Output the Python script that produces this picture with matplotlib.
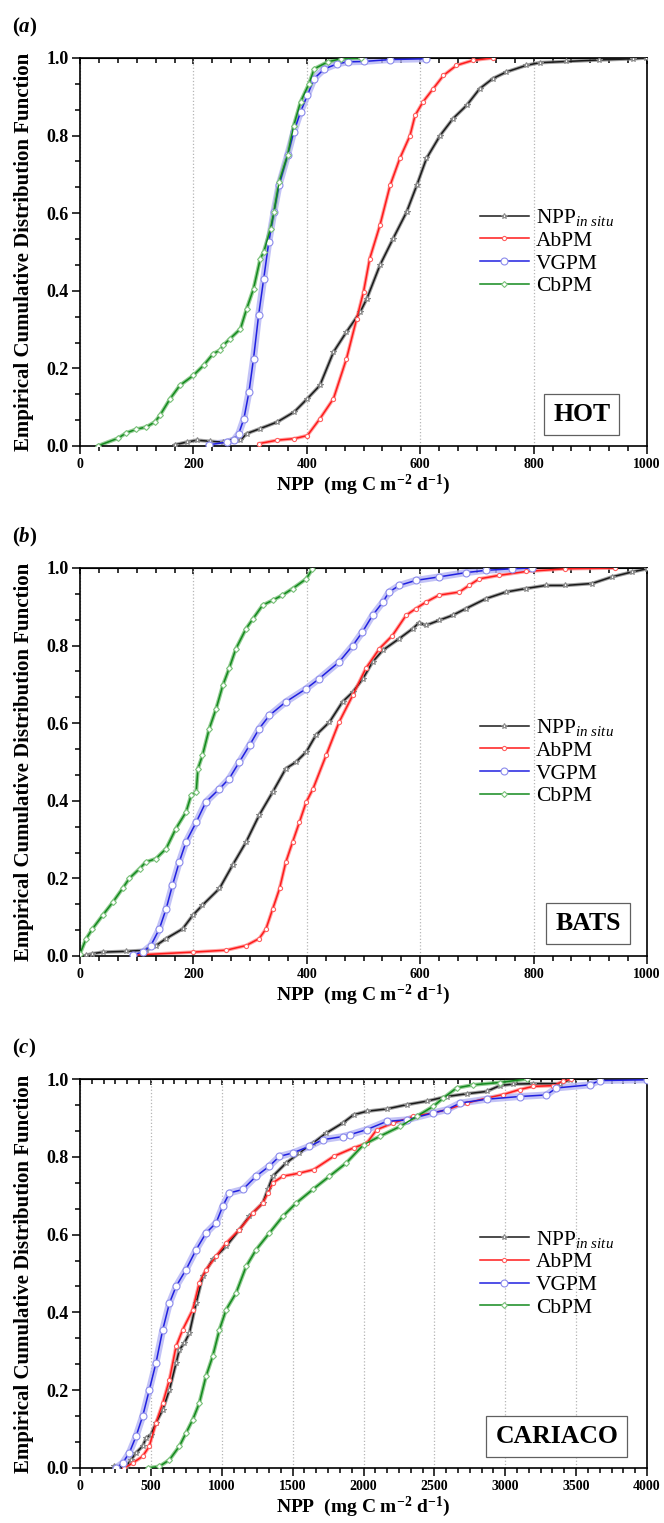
import matplotlib
matplotlib.use("Agg")
import matplotlib.pyplot as plt
from matplotlib.ticker import AutoMinorLocator, MultipleLocator

plt.rcParams['font.family'] = ['Liberation Serif', 'DejaVu Serif']
plt.rcParams['mathtext.fontset'] = 'custom'
plt.rcParams['mathtext.rm'] = 'Liberation Serif'
plt.rcParams['mathtext.it'] = 'Liberation Serif:italic'
plt.rcParams['mathtext.bf'] = 'Liberation Serif:bold'
plt.rcParams['mathtext.bfit'] = 'Liberation Serif:bold:italic'

# ---- (a) HOT: NPP values (x) at read ECDF levels (f)
hot_insitu_x = [167, 188, 206, 230, 253, 271, 283, 294, 318, 348, 378, 401, 423, 447, 470, 494, 506, 529,
                552, 576, 594, 611, 635, 658, 682, 705, 728, 752, 787, 811, 857, 916, 975, 998]
hot_insitu_f = [0.003, 0.010, 0.015, 0.012, 0.010, 0.019, 0.015, 0.032, 0.045, 0.062, 0.088, 0.122, 0.156,
                0.242, 0.294, 0.345, 0.380, 0.466, 0.534, 0.603, 0.672, 0.741, 0.800, 0.844, 0.878, 0.921,
                0.947, 0.964, 0.981, 0.988, 0.991, 0.995, 0.998, 1.0]
hot_abpm_x = [315, 348, 378, 401, 423, 447, 470, 488, 500, 511, 529, 547, 564, 582, 591, 605, 623, 641, 664, 693, 728]
hot_abpm_f = [0.006, 0.015, 0.019, 0.027, 0.070, 0.122, 0.225, 0.328, 0.397, 0.483, 0.569, 0.672, 0.741,
              0.800, 0.852, 0.887, 0.921, 0.955, 0.981, 0.994, 1.0]
hot_vgpm_x = [227, 259, 271, 280, 289, 298, 306, 315, 324, 333, 342, 351, 366, 377, 389, 401, 413, 431,
              454, 472, 500, 547, 611]
hot_vgpm_f = [0.003, 0.010, 0.015, 0.032, 0.070, 0.139, 0.225, 0.337, 0.431, 0.526, 0.603, 0.672, 0.749,
              0.809, 0.861, 0.904, 0.947, 0.972, 0.985, 0.990, 0.991, 0.996, 0.998]
hot_cbpm_x = [31, 67, 82, 99, 117, 132, 141, 159, 176, 200, 218, 235, 247, 253, 265, 283, 294, 306, 318,
              324, 336, 342, 351, 366, 377, 389, 404, 413, 437, 460, 496]
hot_cbpm_f = [0.0, 0.020, 0.034, 0.043, 0.049, 0.062, 0.079, 0.122, 0.156, 0.182, 0.208, 0.238, 0.247,
              0.260, 0.277, 0.302, 0.354, 0.405, 0.483, 0.500, 0.560, 0.603, 0.680, 0.749, 0.826, 0.887,
              0.934, 0.972, 0.990, 0.998, 1.0]

# ---- (b) BATS
bats_insitu_x = [11, 22, 40, 81, 116, 134, 152, 181, 199, 216, 246, 269, 293, 316, 340, 363, 381, 399, 416,
                 440, 463, 481, 499, 516, 534, 563, 587, 598, 610, 633, 657, 680, 716, 751, 786, 821, 856,
                 903, 938, 974, 1000]
bats_insitu_f = [0.002, 0.006, 0.010, 0.012, 0.015, 0.027, 0.045, 0.070, 0.105, 0.131, 0.174, 0.234, 0.294,
                 0.363, 0.423, 0.483, 0.500, 0.526, 0.569, 0.603, 0.655, 0.680, 0.715, 0.758, 0.788, 0.818,
                 0.844, 0.859, 0.852, 0.865, 0.878, 0.895, 0.921, 0.938, 0.947, 0.955, 0.955, 0.960, 0.977,
                 0.990, 0.998]
bats_abpm_x = [93, 199, 258, 293, 316, 328, 340, 352, 363, 375, 387, 399, 411, 434, 457, 481, 504, 528, 551,
               575, 592, 610, 633, 669, 686, 704, 739, 786, 856, 944]
bats_abpm_f = [0.002, 0.010, 0.015, 0.027, 0.045, 0.070, 0.122, 0.174, 0.242, 0.294, 0.345, 0.397, 0.431,
               0.517, 0.603, 0.672, 0.741, 0.792, 0.826, 0.878, 0.895, 0.912, 0.930, 0.938, 0.955, 0.972,
               0.981, 0.991, 0.998, 1.0]
bats_vgpm_x = [93, 111, 125, 140, 152, 163, 175, 187, 205, 222, 246, 263, 281, 299, 316, 334, 363, 399, 422,
               457, 481, 498, 516, 534, 545, 563, 592, 633, 680, 716, 762, 798]
bats_vgpm_f = [0.003, 0.010, 0.027, 0.070, 0.122, 0.182, 0.242, 0.294, 0.345, 0.397, 0.431, 0.457, 0.500,
               0.543, 0.586, 0.620, 0.655, 0.689, 0.715, 0.758, 0.800, 0.835, 0.878, 0.912, 0.938, 0.955,
               0.968, 0.977, 0.988, 0.994, 0.998, 1.0]
bats_cbpm_x = [0, 11, 22, 40, 58, 75, 87, 105, 116, 134, 152, 169, 187, 196, 205, 208, 216, 228, 240, 252,
               263, 275, 293, 305, 322, 340, 357, 375, 399, 410]
bats_cbpm_f = [0.006, 0.045, 0.070, 0.105, 0.139, 0.174, 0.200, 0.225, 0.242, 0.251, 0.277, 0.328, 0.371,
               0.414, 0.423, 0.483, 0.517, 0.586, 0.637, 0.698, 0.741, 0.792, 0.844, 0.869, 0.904, 0.917,
               0.930, 0.947, 0.972, 0.998]

# ---- (c) CARIACO
car_insitu_x = [242, 325, 360, 395, 442, 466, 501, 536, 584, 631, 678, 701, 736, 772, 819, 866, 936, 1031,
                1125, 1195, 1289, 1325, 1360, 1454, 1548, 1642, 1737, 1854, 1930, 2023, 2164, 2305, 2446,
                2587, 2728, 2868, 2962, 3056, 3197, 3385, 3455]
car_insitu_f = [0.004, 0.004, 0.021, 0.039, 0.056, 0.077, 0.086, 0.116, 0.150, 0.201, 0.270, 0.304, 0.321,
                0.347, 0.424, 0.493, 0.536, 0.570, 0.613, 0.647, 0.681, 0.716, 0.750, 0.784, 0.810, 0.835,
                0.861, 0.887, 0.908, 0.917, 0.923, 0.934, 0.943, 0.955, 0.962, 0.968, 0.983, 0.987, 0.988,
                0.988, 0.998]
car_abpm_x = [313, 372, 442, 489, 536, 584, 631, 678, 725, 795, 842, 889, 960, 1031, 1125, 1219, 1289, 1325,
              1360, 1431, 1548, 1648, 1789, 1930, 2023, 2094, 2211, 2352, 2493, 2587, 2728, 2868, 2986,
              3103, 3197, 3338, 3408, 3467]
car_abpm_f = [0.0, 0.013, 0.030, 0.056, 0.116, 0.167, 0.227, 0.313, 0.356, 0.407, 0.476, 0.510, 0.544,
              0.578, 0.613, 0.656, 0.681, 0.707, 0.733, 0.750, 0.758, 0.767, 0.801, 0.823, 0.835, 0.870,
              0.887, 0.904, 0.913, 0.921, 0.938, 0.951, 0.960, 0.973, 0.981, 0.983, 0.994, 1.0]
car_vgpm_x = [254, 301, 348, 395, 442, 489, 536, 584, 631, 678, 748, 819, 889, 960, 1007, 1054, 1148, 1242,
              1336, 1407, 1501, 1619, 1713, 1854, 1906, 2023, 2164, 2305, 2493, 2587, 2681, 2868, 3103,
              3291, 3361, 3596, 3666, 4000]
car_vgpm_f = [0.0, 0.013, 0.039, 0.081, 0.133, 0.201, 0.270, 0.356, 0.424, 0.467, 0.510, 0.561, 0.604,
              0.630, 0.673, 0.707, 0.716, 0.750, 0.776, 0.801, 0.810, 0.827, 0.844, 0.852, 0.857, 0.870,
              0.891, 0.895, 0.913, 0.921, 0.938, 0.948, 0.955, 0.959, 0.977, 0.985, 0.996, 0.998]
car_cbpm_x = [478, 560, 631, 701, 748, 795, 842, 889, 936, 984, 1031, 1101, 1172, 1242, 1336, 1431, 1525,
              1642, 1760, 1878, 2000, 2117, 2258, 2376, 2493, 2563, 2657, 2775, 2962, 3150]
car_cbpm_f = [0.0, 0.004, 0.021, 0.056, 0.090, 0.124, 0.167, 0.236, 0.287, 0.356, 0.407, 0.450, 0.518,
              0.561, 0.604, 0.647, 0.681, 0.716, 0.750, 0.784, 0.831, 0.853, 0.878, 0.904, 0.930, 0.951,
              0.977, 0.985, 0.991, 1.0]

panels = [
    ("(a)", "HOT", 1000, 200,
     [(hot_insitu_x, hot_insitu_f), (hot_abpm_x, hot_abpm_f), (hot_vgpm_x, hot_vgpm_f), (hot_cbpm_x, hot_cbpm_f)]),
    ("(b)", "BATS", 1000, 200,
     [(bats_insitu_x, bats_insitu_f), (bats_abpm_x, bats_abpm_f), (bats_vgpm_x, bats_vgpm_f), (bats_cbpm_x, bats_cbpm_f)]),
    ("(c)", "CARIACO", 4000, 500,
     [(car_insitu_x, car_insitu_f), (car_abpm_x, car_abpm_f), (car_vgpm_x, car_vgpm_f), (car_cbpm_x, car_cbpm_f)]),
]

labels = [r'NPP$_{\mathit{in\ situ}}$', 'AbPM', 'VGPM', 'CbPM']
colors = ['#1a1a1a', '#ff1a1a', '#2020e0', '#138a1e']
halos = ['#8a8a8a', '#ff8c8c', '#b4b4f4', '#78c078']
edges = ['#8a8a8a', '#ff6060', '#8c8cec', '#78c078']
halo_w = [2.6, 2.6, 5.0, 2.8]
markers = ['*', 'o', 'o', 'D']
msizes = [4, 3, 5, 3]

W, H = 664, 1523
fig = plt.figure(figsize=(W / 100, H / 100), dpi=100)

tops = [58, 568, 1079]
heights = [388, 388, 389]
box_pos = [(0.885, 0.082), (0.896, 0.084), (0.841, 0.082)]

for i, (tag, station, xmax, xstep, series) in enumerate(panels):
    top, h = tops[i], heights[i]
    ax = fig.add_axes([80 / W, 1 - (top + h) / H, 567 / W, h / H])

    for j, (xs, fs) in enumerate(series):
        ax.plot(xs, fs, color=halos[j], lw=halo_w[j], alpha=0.8, solid_capstyle='round', zorder=2)
        ax.plot(xs, fs, color=colors[j], lw=1.1, marker=markers[j], ms=msizes[j],
                mfc='white', mec=edges[j], mew=0.8, label=labels[j], zorder=3)

    ax.set_xlim(0, xmax)
    ax.set_ylim(0, 1)
    ax.xaxis.set_major_locator(MultipleLocator(xstep))
    ax.xaxis.set_minor_locator(AutoMinorLocator(6))
    ax.yaxis.set_major_locator(MultipleLocator(0.2))
    ax.yaxis.set_minor_locator(AutoMinorLocator(3))
    ax.yaxis.set_major_formatter(lambda v, p: f"{v:.1f}")
    ax.grid(axis='x', which='major', linestyle=':', color='#b5b5b5', lw=0.9)
    ax.tick_params(axis='both', which='both', direction='out', top=False, right=False, width=1.1)
    ax.tick_params(axis='both', which='major', length=6)
    ax.tick_params(axis='both', which='minor', length=3.5)
    ax.tick_params(axis='x', labelsize=10, pad=3)
    ax.tick_params(axis='y', labelsize=13, pad=2)
    for lab in ax.get_xticklabels() + ax.get_yticklabels():
        lab.set_fontweight('bold')
    for sp in ax.spines.values():
        sp.set_linewidth(1.2)

    sec = ax.secondary_xaxis('top')
    sec.xaxis.set_major_locator(MultipleLocator(xstep))
    sec.xaxis.set_minor_locator(AutoMinorLocator(6))
    sec.tick_params(which='both', direction='in', labeltop=False, width=1.1)
    sec.tick_params(which='major', length=4.5)
    sec.tick_params(which='minor', length=3.5)

    ax.set_xlabel(r'NPP  (mg C m$^{\mathbf{-2}}$ d$^{\mathbf{-1}}$)', fontsize=14, fontweight='bold', labelpad=1)
    ax.set_ylabel('Empirical Cumulative Distribution Function', fontsize=15, fontweight='bold', va='center')
    ax.yaxis.set_label_coords(-0.099, 0.5)

    ax.legend(loc='upper left', bbox_to_anchor=(0.705, 0.615), frameon=False, fontsize=15.5,
              numpoints=1, handlelength=2.3, handletextpad=0.3, labelspacing=0.12,
              borderaxespad=0, borderpad=0)

    bx, by = box_pos[i]
    ax.text(bx, by, station, transform=ax.transAxes, ha='center', va='center', fontsize=18.5,
            fontweight='bold', zorder=5,
            bbox=dict(boxstyle='square,pad=0.35', fc='white', ec='#606060', lw=0.9))

    fig.text(12 / W, 1 - (top - 31) / H, '(' + r'$\mathbfit{' + tag[1] + '}$' + ')', fontsize=15,
             fontweight='bold', ha='left', va='center')

fig.savefig('out.png', dpi=100)
